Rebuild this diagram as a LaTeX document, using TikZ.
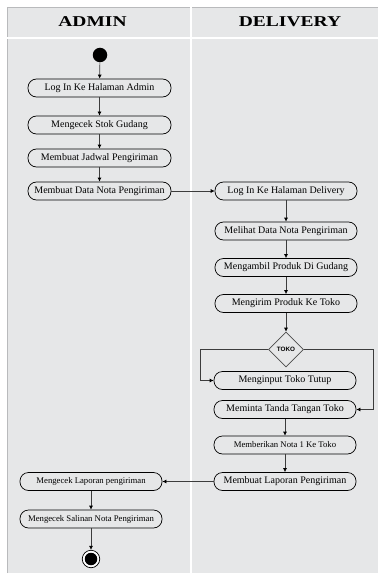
\documentclass[tikz,border=0pt]{standalone}
\usepackage{fontspec}
\setmainfont{Liberation Serif}
\newfontfamily\labelsans{Liberation Sans}
\usetikzlibrary{arrows.meta,shapes.geometric}
\definecolor{lanebg}{HTML}{E6E7E8}
\definecolor{lanerule}{HTML}{B9BABC}
\definecolor{flowline}{HTML}{3C3C3C}
\tikzset{
  act/.style={draw=black, line width=0.7pt, rounded corners=8.5pt,
    minimum height=18pt, minimum width=143pt, inner sep=0pt, fill=lanebg,
    font=\fontsize{10}{12}\selectfont},
  actsmall/.style={act, font=\fontsize{8.7}{10}\selectfont},
  flow/.style={draw=flowline, line width=0.7pt,
    -{Latex[length=4pt,width=4pt,color=black]}},
  lanehead/.style={font=\fontsize{15}{18}\selectfont\bfseries},
  decision/.style={diamond, draw=black!70, line width=0.6pt, aspect=1,
    minimum width=35pt, minimum height=35pt, inner sep=0pt, fill=lanebg,
    font=\labelsans\bfseries\fontsize{6.3}{7}\selectfont}
}
\begin{document}
\begin{tikzpicture}[x=1pt,y=-1pt]
\useasboundingbox (0,0) rectangle (378,575);
% swimlane background
\fill[lanebg] (7,7) rectangle (378,573);
\draw[lanerule, line width=0.6pt] (7,573) -- (7,7) -- (378,7);
\draw[white, line width=2pt] (7,38.5) -- (378,38.5);
\draw[white, line width=2pt] (190.5,7) -- (190.5,573);
% lane titles
\node[lanehead] (hadmin) at (92.5,22) {\scalebox{1.3}[1]{ADMIN}};
\node[lanehead] (hdeliv) at (290,21.5) {\scalebox{1.3}[1]{DELIVERY}};
% admin lane
\node[circle, fill=black, minimum size=14.5pt, inner sep=0pt] (start) at (100,55) {};
\node[act] (login) at (99.5,88) {Log In Ke Halaman Admin};
\node[act] (stok) at (99.5,125) {Mengecek Stok Gudang};
\node[act] (jadwal) at (99.5,158) {Membuat Jadwal Pengiriman};
\node[act] (nota) at (99.5,191) {Membuat Data Nota Pengiriman};
% delivery lane
\node[act, minimum width=142pt] (logdel) at (286,191) {Log In Ke Halaman Delivery};
\node[act, minimum width=142pt] (lihat) at (286,231) {Melihat Data Nota Pengiriman};
\node[act, minimum width=142pt] (ambil) at (286,267.5) {Mengambil Produk Di Gudang};
\node[act, minimum width=142pt] (kirim) at (286,303.5) {Mengirim Produk Ke Toko};
\node[decision] (toko) at (286,349.5) {TOKO};
\node[act, minimum width=142pt] (input) at (285,380.5) {Menginput Toko Tutup};
\node[act, minimum width=142pt] (minta) at (285,409.5) {Meminta Tanda Tangan Toko};
\node[actsmall, minimum width=142pt] (nota1) at (285,445) {Memberikan Nota 1 Ke Toko};
\node[act, minimum width=142pt] (lapor) at (285,481.5) {Membuat Laporan Pengiriman};
% back in the admin lane
\node[actsmall, minimum width=142pt] (ceklap) at (91,481.5) {Mengecek Laporan pengiriman};
\node[actsmall, minimum width=142pt] (salin) at (91,519) {Mengecek Salinan Nota Pengiriman};
\node[circle, draw=black, line width=0.7pt, fill=white, minimum size=17.5pt, inner sep=0pt] (finish) at (91,559) {};
\node[circle, fill=black, minimum size=12.5pt, inner sep=0pt] (finishdot) at (finish) {};
% control flow
\draw[flow] (start) -- (login);
\draw[flow] (login) -- (stok);
\draw[flow] (stok) -- (jadwal);
\draw[flow] (jadwal) -- (nota);
\draw[flow] (nota) -- (logdel);
\draw[flow] (logdel) -- (lihat);
\draw[flow] (lihat) -- (ambil);
\draw[flow] (ambil) -- (kirim);
\draw[flow] (kirim) -- (toko);
\draw[flow] (toko.west) -- ++(-68,0) |- (input.west);
\draw[flow] (toko.east) -- ++(70,0) |- (minta.east);
\draw[flow] (minta) -- (nota1);
\draw[flow] (nota1) -- (lapor);
\draw[flow] (lapor) -- (ceklap);
\draw[flow] (ceklap) -- (salin);
\draw[flow] (salin) -- (finish);
\end{tikzpicture}
\end{document}
